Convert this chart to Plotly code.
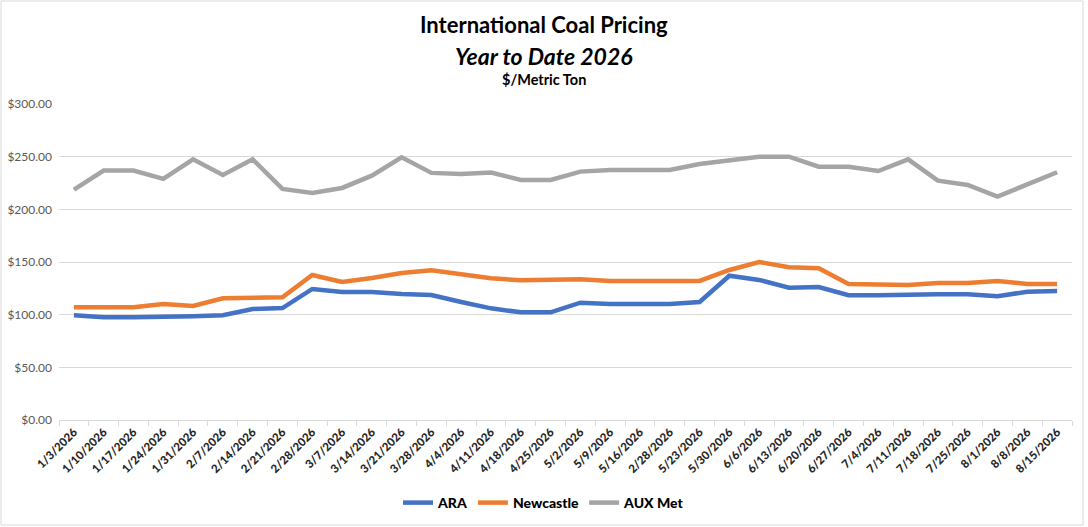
import plotly.graph_objects as go

weeks = ['1/3/2026', '1/10/2026', '1/17/2026', '1/24/2026', '1/31/2026', '2/7/2026',
         '2/14/2026', '2/21/2026', '2/28/2026', '3/7/2026', '3/14/2026', '3/21/2026',
         '3/28/2026', '4/4/2026', '4/11/2026', '4/18/2026', '4/25/2026', '5/2/2026',
         '5/9/2026', '5/16/2026', '2/28/2026', '5/23/2026', '5/30/2026', '6/6/2026',
         '6/13/2026', '6/20/2026', '6/27/2026', '7/4/2026', '7/11/2026', '7/18/2026',
         '7/25/2026', '8/1/2026', '8/8/2026', '8/15/2026']

ara = [99.5, 97.5, 97.5, 97.5, 98.4, 99.4, 105.4, 106.3, 124.4, 121.5, 121.5, 119.6,
       118.7, 112.0, 106.0, 102.2, 102.2, 111.4, 110.1, 110.1, 110.1, 112.0, 137.0, 133.0,
       125.6, 126.3, 118.4, 118.4, 119.3, 119.3, 119.3, 117.4, 121.8, 122.5]

newcastle = [107.0, 107.0, 107.0, 110.1, 108.2, 115.5, 116.5, 116.5, 137.7, 131.0, 134.8, 139.6,
             142.1, 138.6, 134.5, 132.6, 132.6, 133.6, 132.0, 132.0, 132.0, 132.0, 142.4, 150.0,
             145.0, 144.0, 129.1, 128.2, 128.2, 130.0, 130.0, 132.0, 129.1, 129.1]

aux_met = [218.8, 236.8, 236.8, 228.9, 247.5, 232.7, 247.5, 219.4, 215.6, 220.3, 232.0, 249.4,
           234.6, 233.6, 234.9, 227.9, 227.9, 235.8, 237.4, 237.4, 237.4, 243.0, 246.2, 250.0,
           250.0, 240.5, 240.5, 236.4, 247.5, 227.2, 223.1, 212.0, 223.7, 235.2]

y_ticks = [0, 50, 100, 150, 200, 250, 300]

series = [('ARA', ara, '#4472C4'),
          ('Newcastle', newcastle, '#ED7D31'),
          ('AUX Met', aux_met, '#A5A5A5')]

idx = list(range(len(weeks)))

fig = go.Figure()
for name, vals, col in series:
    fig.add_trace(go.Scatter(x=idx, y=vals, name=name, mode='lines',
                             line=dict(color=col, width=4.5)))

W, H = 1088, 527
L, R, T, B = 59, 16, 104, 107
pw, ph = W - L - R, H - T - B


def px(x):
    return (x - L) / pw


def py(y):
    return (H - B - y) / ph


fig.update_layout(
    width=W, height=H,
    margin=dict(l=L, r=R, t=T, b=B, autoexpand=False),
    paper_bgcolor='white', plot_bgcolor='white',
    font=dict(family='Lato, Open Sans, sans-serif', color='#262626'),
    showlegend=True,
    legend=dict(orientation='h', xref='container', yref='container',
                x=544 / W, xanchor='center', y=1 - 503 / H, yanchor='middle',
                font=dict(size=14, color='#000000', family='Lato Black, Lato, sans-serif'),
                itemwidth=30, tracegroupgap=0),
    xaxis=dict(range=[-0.5, len(weeks) - 0.5], tickmode='array', tickvals=idx, ticktext=weeks,
               tickangle=-45, showgrid=False, zeroline=False, showline=True, automargin=False,
               linecolor='#D9D9D9', linewidth=1, ticks='',
               tickfont=dict(size=11.5, color='#262626', family='Lato Black, Lato, sans-serif'),
               minor=dict(ticks='outside', tick0=-0.5, dtick=1, ticklen=5,
                          tickcolor='#D9D9D9', showgrid=False)),
    yaxis=dict(range=[0, 300], tickvals=y_ticks, tickformat='$,.2f', automargin=False,
               showgrid=True, gridcolor='#D9D9D9', gridwidth=1, zeroline=False,
               showline=False, ticks='', ticklabelstandoff=6,
               tickfont=dict(size=12, color='#595959', family='Lato, sans-serif')),
)

fig.add_annotation(text='<b>International Coal Pricing</b>', x=px(544), y=py(24),
                   xref='paper', yref='paper', showarrow=False, yanchor='middle',
                   font=dict(size=22, color='#000000', family='Lato, sans-serif'))
fig.add_annotation(text='<b><i>Year to Date 2026</i></b>', x=px(544), y=py(56),
                   xref='paper', yref='paper', showarrow=False, yanchor='middle',
                   font=dict(size=23, color='#000000', family='Lato, sans-serif'))
fig.add_annotation(text='<b>$/Metric Ton</b>', x=px(544), y=py(79),
                   xref='paper', yref='paper', showarrow=False, yanchor='middle',
                   font=dict(size=14.5, color='#000000', family='Lato, sans-serif'))

# chart area border
fig.add_shape(type='rect', xref='paper', yref='paper',
              x0=px(1), x1=px(1083), y0=py(525), y1=py(1),
              line=dict(color='#D9D9D9', width=1), layer='below')

fig.write_html('out.html', config={'displayModeBar': False},
               post_script="document.body.style.margin='0px';")
